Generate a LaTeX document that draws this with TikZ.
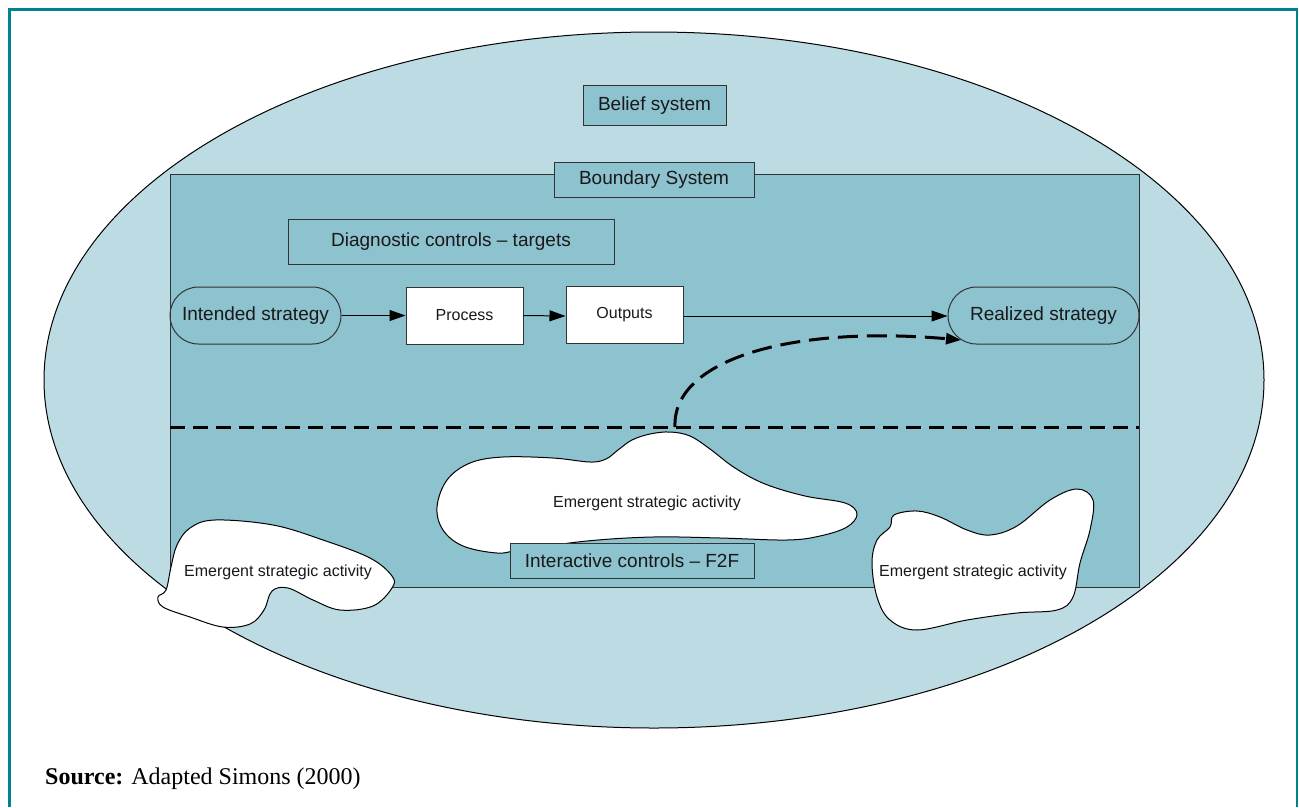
\documentclass[tikz,border=0pt]{standalone}
\usepackage{fontspec}
\setmainfont{Liberation Serif}
\setsansfont{Liberation Sans}
\usetikzlibrary{arrows.meta,shapes.misc}

\definecolor{frameteal}{HTML}{00838F}
\definecolor{beliefblue}{HTML}{BCDBE3}
\definecolor{boundblue}{HTML}{8DC2CF}
\definecolor{edgegray}{HTML}{333333}

\tikzset{
  lbl/.style={font=\sffamily\fontsize{19}{22}\selectfont, text=black!90},
  small/.style={font=\sffamily\fontsize{16}{19}\selectfont, text=black!90},
  tagbox/.style={lbl, draw=edgegray, fill=boundblue, line width=1pt, inner sep=0pt},
  whitebox/.style={small, draw=edgegray, fill=white, line width=1pt, inner sep=0pt,
    minimum width=117pt, minimum height=57pt},
  stadium/.style={lbl, draw=edgegray, rounded rectangle, line width=1pt, inner sep=0pt,
    minimum height=57pt},
  flow/.style={line width=1pt, -{Triangle[length=16pt,width=11pt]}},
  cloud/.style={draw=black, fill=white, line width=1pt},
  thickdash/.style={line width=3pt, dash pattern=on 15pt off 8pt}
}

\begin{document}
\begin{tikzpicture}[x=1pt,y=-1pt]
\useasboundingbox (0,0) rectangle (1299,807);
\fill[white] (0,0) rectangle (1299,807);

% panel frame (open at the bottom)
\draw[frameteal, line width=3pt] (8,9) -- (1298,9);
\draw[frameteal, line width=3pt] (9,8) -- (9,807);
\draw[frameteal, line width=2.5pt] (1297,8) -- (1297,807);

% belief system: the outer ellipse
\draw[fill=beliefblue, line width=1pt] (654,380) ellipse [x radius=610, y radius=348];

% boundary system: the inner rectangle
\draw[fill=boundblue, draw=edgegray, line width=1pt] (170,174) rectangle (1139,587);

\node[tagbox, minimum width=143pt, minimum height=40pt] (belief) at (654.5,105.5) {Belief system};
\node[tagbox, minimum width=200pt, minimum height=35pt] (boundary) at (654,179.5) {Boundary System};
\node[tagbox, minimum width=326pt, minimum height=45pt] (diag) at (451,241.5) {Diagnostic controls -- targets};

% intended-to-realized flow
\node[stadium, minimum width=171pt] (intended) at (255.5,315.5) {Intended strategy};
\node[whitebox] (process) at (464.5,315.5) {Process};
\node[whitebox] (outputs) at (624.5,315) {Outputs};
\node[stadium, minimum width=191pt] (realized) at (1043.5,315.5) {Realized strategy};

\draw[flow] (intended.east) -- (process.west);
\draw[flow] (process.east) -- (outputs.west |- 0,316);
\draw[flow] (outputs.east |- 0,316) -- (realized.west |- 0,316);

% split between planned and emergent strategy
\coordinate (splitL) at (170,427);
\coordinate (splitR) at (1139,427);
\draw[thickdash] (splitL) -- (splitR);

% emergent strategy feeding the realized strategy
\coordinate (emergeOut) at (675,427);
\coordinate (realizedIn) at (961,340);
\draw[line width=3pt, dash pattern=on 20pt off 9pt, -{Triangle[length=15pt,width=11pt]}]
  (emergeOut) .. controls (672,360) and (790,325) .. (realizedIn);

% emergent strategic activity clouds
\draw[cloud] plot[smooth cycle, tension=0.6] coordinates {
  (437,507) (447,480) (470,463) (503,457) (553,458) (590,462) (606,459) (618,450)
  (632,440) (650,434) (670,432) (690,436) (710,449) (735,468) (765,484) (805,496)
  (845,503) (857,514) (847,527) (820,536) (787,540) (720,538) (653,537) (587,541)
  (520,550) (497,553) (463,546) (443,530)};
\node[small] (emgC) at (647,503) {Emergent strategic activity};

\node[tagbox, minimum width=244pt, minimum height=35pt] (interactive) at (632,560.5) {Interactive controls -- F2F};

\draw[cloud] plot[smooth cycle, tension=0.6] coordinates {
  (158,597) (166,590) (171,567) (177,545) (190,528) (215,520) (273,525) (323,540)
  (370,558) (392,576) (392,588) (373,606) (340,610) (313,600) (288,588) (272,591)
  (264,610) (250,624) (223,627) (190,617) (163,607)};
\node[small] (emgL) at (278,572) {Emergent strategic activity};

\draw[cloud] plot[smooth cycle, tension=0.6] coordinates {
  (894,515) (917,511) (940,517) (967,530) (990,535) (1017,526) (1050,500) (1077,489)
  (1093,500) (1090,530) (1080,563) (1073,597) (1057,610) (1017,613) (967,620)
  (917,630) (890,620) (877,597) (872,563) (877,540) (890,527)};
\node[small] (emgR) at (973,572) {Emergent strategic activity};

% source line
\node[anchor=base west, font=\fontsize{24}{28}\selectfont, inner sep=0pt] (source) at (45,784)
  {\textbf{Source:} Adapted Simons (2000)};
\end{tikzpicture}
\end{document}
